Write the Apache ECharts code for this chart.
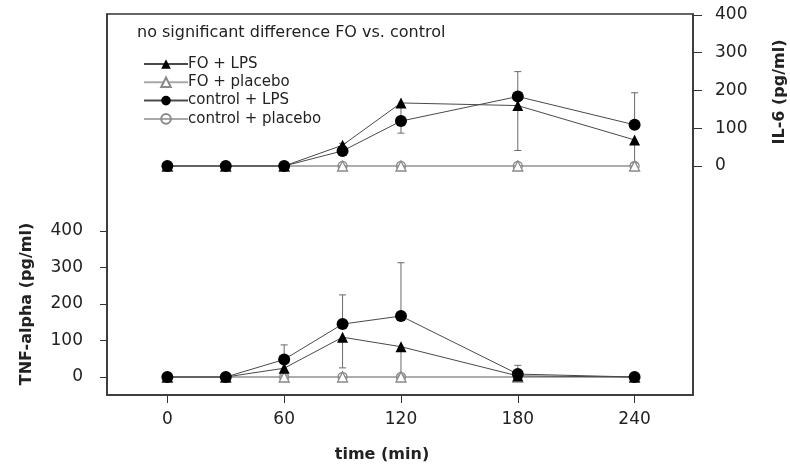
<!DOCTYPE html>
<html>
<head>
<meta charset="utf-8">
<script src="https://cdn.jsdelivr.net/npm/echarts@6/dist/echarts.min.js"></script>
<style>
  html, body { margin: 0; padding: 0; background: #fff; }
  #chart { width: 790px; height: 466px; }
</style>
</head>
<body>
<div id="chart"></div>
<script>
// Sampling times (min)
const times = [0, 30, 60, 90, 120, 180, 240];
const xTicks = [0, 60, 120, 180, 240];
const yTicks = [0, 100, 200, 300, 400];

// IL-6 (pg/ml), upper panel, right axis
const il6FoLps      = [0, 0, 0, 55, 167, 160, 69];
const il6FoPlacebo  = [0, 0, 0, 0, 0, 0, 0];
const il6CtrlLps    = [0, 0, 0, 40, 119, 184, 109];
const il6CtrlPlacebo = [0, 0, 0, 0, 0, 0, 0];
// error bar ends: FO drawn downward, control drawn upward
const il6FoLpsErrEnd   = [null, null, null, 35, 87, 41, 8];
const il6CtrlLpsErrEnd = [null, null, null, 60, 130, 250, 194];

// TNF-alpha (pg/ml), lower panel, left axis
const tnfFoLps       = [0, 0, 24, 109, 83, 3, 0];
const tnfFoPlacebo   = [0, 0, 0, 0, 0, 0, 0];
const tnfCtrlLps     = [0, 0, 48, 145, 167, 8, 0];
const tnfCtrlPlacebo = [0, 0, 0, 0, 0, 0, 0];
const tnfFoLpsErrEnd   = [null, null, 5, 25, 5, null, null];
const tnfCtrlLpsErrEnd = [null, null, 88, 225, 313, 32, null];

const FONT = 'DejaVu Sans';
const TXT = '#222';

function pairs(ys) { return times.map((t, i) => [t, ys[i]]); }
function errData(means, ends) {
  const out = [];
  times.forEach((t, i) => { if (ends[i] !== null) out.push([t, means[i], ends[i]]); });
  return out;
}
function renderErr(params, api) {
  const x = api.value(0);
  const p1 = api.coord([x, api.value(1)]);
  const p2 = api.coord([x, api.value(2)]);
  const w = 3.5;
  const st = { stroke: '#6a6a6a', lineWidth: 1 };
  return {
    type: 'group',
    children: [
      { type: 'line', shape: { x1: p1[0], y1: p1[1], x2: p2[0], y2: p2[1] }, style: st },
      { type: 'line', shape: { x1: p2[0] - w, y1: p2[1], x2: p2[0] + w, y2: p2[1] }, style: st }
    ]
  };
}

const lpsLine = { color: '#4a4a4a', width: 1 };
const placeboLine = { color: '#a8a8a8', width: 1.5 };
const openStyle = { color: 'rgba(255,255,255,0)', borderColor: '#8a8a8a', borderWidth: 1.3 };

function seriesFor(yIdx, foLps, foPla, ctLps, ctPla, foErr, ctErr, tag) {
  return [
    { name: tag + ' SE FO', type: 'custom', yAxisIndex: yIdx, renderItem: renderErr,
      data: errData(foLps, foErr), z: 1 },
    { name: tag + ' SE control', type: 'custom', yAxisIndex: yIdx, renderItem: renderErr,
      data: errData(ctLps, ctErr), z: 1 },
    { name: 'control + placebo', type: 'line', yAxisIndex: yIdx, data: pairs(ctPla),
      symbol: 'circle', symbolSize: 9, lineStyle: placeboLine, itemStyle: openStyle, z: 2 },
    { name: 'FO + placebo', type: 'line', yAxisIndex: yIdx, data: pairs(foPla),
      symbol: 'triangle', symbolSize: 10, lineStyle: placeboLine,
      itemStyle: { color: '#fff', borderColor: '#8a8a8a', borderWidth: 1.3 }, z: 2 },
    { name: 'FO + LPS', type: 'line', yAxisIndex: yIdx, data: pairs(foLps),
      symbol: 'triangle', symbolSize: 11, lineStyle: lpsLine, itemStyle: { color: '#000' }, z: 3 },
    { name: 'control + LPS', type: 'line', yAxisIndex: yIdx, data: pairs(ctLps),
      symbol: 'circle', symbolSize: 12, lineStyle: lpsLine, itemStyle: { color: '#000' }, z: 3 }
  ];
}

const axisLineStyle = { color: '#333', width: 1.5 };

const option = {
  animation: false,
  backgroundColor: '#fff',
  grid: { left: 107, right: 97, top: 14, bottom: 71, show: true, borderColor: '#333', borderWidth: 1.5 },
  legend: {
    data: [
      { name: 'FO + LPS', lineStyle: { width: 2 } },
      { name: 'FO + placebo' },
      { name: 'control + LPS', lineStyle: { width: 2 } },
      { name: 'control + placebo' }
    ],
    orient: 'vertical', left: 138, top: 50,
    itemWidth: 44, itemHeight: 12, itemGap: 0.3,
    textStyle: { fontFamily: FONT, fontSize: 15, color: TXT, lineHeight: 18, padding: [0, 0, 0, -5] }
  },
  xAxis: {
    type: 'value', min: -31, max: 270,
    splitLine: { show: false },
    axisLine: { onZero: false, lineStyle: axisLineStyle },
    axisTick: { length: 8, lineStyle: { color: '#333' }, customValues: xTicks },
    axisLabel: { customValues: xTicks, margin: 16, fontFamily: FONT, fontSize: 17, color: TXT }
  },
  yAxis: [
    {
      type: 'value', position: 'left', min: -49.3, max: 994.5,
      splitLine: { show: false },
      axisLine: { show: true, onZero: false, lineStyle: axisLineStyle },
      axisTick: { show: true, length: 7, lineStyle: { color: '#333' }, customValues: yTicks },
      axisLabel: { customValues: yTicks, margin: 24, fontFamily: FONT, fontSize: 17, color: TXT }
    },
    {
      type: 'value', position: 'right', min: -606.6, max: 402.6,
      splitLine: { show: false },
      axisLine: { show: true, onZero: false, lineStyle: axisLineStyle },
      axisTick: { show: true, length: 9, lineStyle: { color: '#333' }, customValues: yTicks },
      axisLabel: { customValues: yTicks, margin: 22, fontFamily: FONT, fontSize: 17, color: TXT }
    }
  ],
  graphic: [
    { type: 'text', left: 137, top: 25,
      style: { text: 'no significant difference FO vs. control', font: '16px "DejaVu Sans"', fill: TXT } },
    { type: 'text', x: 27, y: 304, rotation: Math.PI / 2,
      style: { text: 'TNF-alpha (pg/ml)', font: 'bold 16px "DejaVu Sans"', fill: TXT,
               align: 'center', verticalAlign: 'middle' } },
    { type: 'text', x: 780, y: 92, rotation: Math.PI / 2,
      style: { text: 'IL-6 (pg/ml)', font: 'bold 16px "DejaVu Sans"', fill: TXT,
               align: 'center', verticalAlign: 'middle' } },
    { type: 'text', x: 382, y: 455,
      style: { text: 'time (min)', font: 'bold 16px "DejaVu Sans"', fill: TXT,
               align: 'center', verticalAlign: 'middle' } }
  ],
  series: [].concat(
    seriesFor(1, il6FoLps, il6FoPlacebo, il6CtrlLps, il6CtrlPlacebo, il6FoLpsErrEnd, il6CtrlLpsErrEnd, 'IL-6'),
    seriesFor(0, tnfFoLps, tnfFoPlacebo, tnfCtrlLps, tnfCtrlPlacebo, tnfFoLpsErrEnd, tnfCtrlLpsErrEnd, 'TNF')
  )
};

const chart = echarts.init(document.getElementById('chart'), null, { renderer: 'canvas' });
chart.setOption(option);
</script>
</body>
</html>
